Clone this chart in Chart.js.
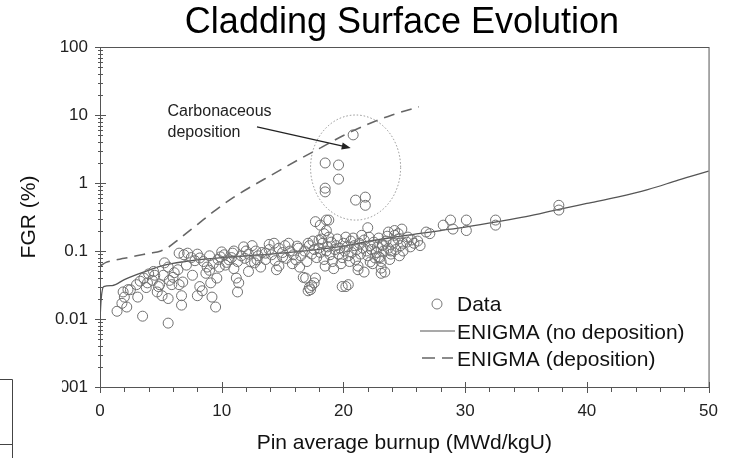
<!DOCTYPE html>
<html>
<head>
<meta charset="utf-8">
<script src="https://cdn.jsdelivr.net/npm/chart.js@4.4.1/dist/chart.umd.min.js"></script>
<style>
  html, body { margin: 0; padding: 0; background: #fff; }
  #wrap { width: 732px; height: 458px; }
</style>
</head>
<body>
<div id="wrap"><canvas id="fgrChart" width="732" height="458"></canvas></div>
<script>
const chartTitle = "Cladding Surface Evolution";
const xAxisTitle = "Pin average burnup (MWd/kgU)";
const yAxisTitle = "FGR (%)";
const legendLabels = ["Data", "ENIGMA (no deposition)", "ENIGMA (deposition)"];
const noteLines = ["Carbonaceous", "deposition"];

const xTickValues = [0, 10, 20, 30, 40, 50];
const yTickValues = [0.001, 0.01, 0.1, 1, 10, 100];
const yTickLabels = ["0.001", "0.01", "0.1", "1", "10", "100"];

// measured points (burnup, FGR)
const dataBurnup = [
  1.4, 1.8, 2.0, 2.3, 2.2, 3.0, 3.1, 3.5, 3.8, 3.9,
  4.3, 4.7, 4.8, 5.2, 5.3, 5.6, 5.6, 5.9, 6.0, 6.4,
  6.5, 6.7, 6.7, 6.8, 7.1, 7.2, 7.6, 8.0, 8.2, 8.2,
  8.7, 8.8, 9.2, 9.5, 9.6, 9.8, 9.9, 10.6, 10.9, 11.2,
  11.3, 11.4, 1.9, 2.5, 3.3, 3.6, 4.5, 4.9, 5.1, 5.7,
  6.1, 6.5, 6.9, 7.8, 8.4, 9.0, 9.1, 4.0, 4.4, 5.6,
  12.0, 12.5, 12.9, 13.6, 14.3, 14.5, 15.0, 15.5, 16.1, 16.3,
  16.9, 17.2, 17.3, 17.6, 17.7, 18.0, 18.4, 18.6, 20.2, 20.4,
  10.0, 11.8, 12.7, 13.9, 16.7, 18.1, 19.9, 17.7, 18.8, 18.6,
  22.0, 23.7, 24.8, 25.3, 26.3, 26.8, 21.2, 21.7, 23.1, 23.4,
  17.4, 17.1, 22.2, 22.6, 27.1, 28.2, 29.0, 28.8, 30.1, 30.1,
  32.5, 32.5, 37.7, 37.7, 25.6, 24.2, 24.5, 24.9, 23.9, 23.2,
  22.9, 23.1, 14.7, 13.2, 15.8, 11.0, 10.3, 12.2, 16.4, 15.2,
  18.5, 19.6, 19.6, 18.5, 18.5, 21.0, 21.8, 21.8, 20.8,
  7.5, 8.0, 8.5, 9.0, 9.3, 9.7, 10.2, 10.4, 10.8, 11.0,
  11.3, 11.6, 11.9, 12.2, 12.4, 12.8, 13.0, 13.3, 13.6, 13.9,
  14.1, 14.4, 14.7, 15.0, 15.3, 15.6, 15.9, 16.2, 16.5, 16.8,
  17.0, 17.2, 17.4, 17.6, 17.8, 18.0, 18.1, 18.3, 18.4, 18.6,
  18.7, 18.9, 19.0, 19.1, 19.3, 19.4, 19.6, 19.7, 19.9, 20.0,
  20.1, 20.3, 20.4, 20.6, 20.7, 20.9, 21.0, 21.1, 21.3, 21.4,
  21.6, 21.7, 21.9, 22.0, 22.2, 22.3, 22.5, 22.7, 22.8, 23.0,
  23.2, 23.3, 23.5, 23.7, 23.9, 24.1, 24.3, 24.5, 24.7, 24.9,
  25.2, 25.5, 25.8, 26.1, 17.5, 18.2, 18.8, 19.5, 20.2, 20.8,
  21.5, 22.1, 22.9, 23.6, 24.2, 17.1, 19.8, 20.5, 21.2, 22.4,
  23.1, 23.8, 24.6, 18.5, 19.2
];
const dataFgr = [
  0.013, 0.017, 0.021, 0.027, 0.015, 0.032, 0.021, 0.011, 0.029, 0.034,
  0.037, 0.025, 0.030, 0.044, 0.067, 0.020, 0.0087, 0.032, 0.041, 0.053,
  0.093, 0.022, 0.016, 0.035, 0.062, 0.093, 0.044, 0.022, 0.079, 0.030,
  0.047, 0.058, 0.021, 0.015, 0.040, 0.058, 0.082, 0.074, 0.093, 0.040,
  0.025, 0.034, 0.025, 0.027, 0.036, 0.040, 0.044, 0.032, 0.022, 0.037,
  0.048, 0.032, 0.088, 0.072, 0.026, 0.052, 0.034, 0.046, 0.050, 0.058,
  0.10, 0.12, 0.074, 0.093, 0.13, 0.053, 0.082, 0.13, 0.074, 0.11,
  0.040, 0.029, 0.027, 0.034, 0.040, 0.145, 0.18, 0.285, 0.030, 0.032,
  0.097, 0.115, 0.067, 0.125, 0.041, 0.24, 0.030, 0.27, 0.285, 0.20,
  0.22, 0.19, 0.21, 0.16, 0.12, 0.19, 0.053, 0.049, 0.047, 0.049,
  0.031, 0.026, 0.069, 0.079, 0.18, 0.24, 0.21, 0.285, 0.285, 0.20,
  0.285, 0.24, 0.47, 0.40, 0.145, 0.20, 0.18, 0.13, 0.10, 0.12,
  0.082, 0.056, 0.06, 0.058, 0.065, 0.055, 0.062, 0.05, 0.058, 0.12,
  1.97, 1.84, 1.14, 0.84, 0.74, 0.56, 0.62, 0.47, 5.1,
  0.08, 0.09, 0.07, 0.085, 0.065, 0.075, 0.088, 0.068, 0.08, 0.1,
  0.07, 0.085, 0.078, 0.09, 0.07, 0.1, 0.085, 0.095, 0.075, 0.105,
  0.088, 0.072, 0.11, 0.095, 0.078, 0.1, 0.088, 0.118, 0.085, 0.1,
  0.07, 0.12, 0.09, 0.105, 0.08, 0.11, 0.095, 0.13, 0.075, 0.1,
  0.115, 0.088, 0.135, 0.07, 0.105, 0.12, 0.09, 0.11, 0.08, 0.13,
  0.1, 0.115, 0.085, 0.14, 0.095, 0.12, 0.075, 0.105, 0.13, 0.09,
  0.11, 0.145, 0.1, 0.085, 0.12, 0.105, 0.135, 0.095, 0.115, 0.08,
  0.125, 0.1, 0.14, 0.11, 0.09, 0.13, 0.105, 0.15, 0.12, 0.1,
  0.135, 0.115, 0.13, 0.14, 0.14, 0.15, 0.16, 0.15, 0.16, 0.155,
  0.17, 0.16, 0.155, 0.165, 0.17, 0.13, 0.065, 0.07, 0.06, 0.065,
  0.07, 0.075, 0.085, 0.06, 0.055
];

// ENIGMA model curves
const noDepBurnup = [0, 0.1, 0.3, 1, 2, 3, 4, 5, 6, 7, 8, 10, 12, 14, 16, 18, 20, 22, 24, 26, 28, 30, 32.7, 35, 37.7, 40, 42.5, 45, 47.5, 50, 50.5];
const noDepFgr = [0.01, 0.02, 0.03, 0.031, 0.038, 0.045, 0.052, 0.06, 0.066, 0.07, 0.074, 0.08, 0.085, 0.09, 0.097, 0.106, 0.118, 0.138, 0.158, 0.178, 0.2, 0.225, 0.27, 0.32, 0.41, 0.5, 0.62, 0.8, 1.1, 1.5, 1.58];
const depBurnup = [0, 0.5, 1, 2, 3, 4, 5, 5.5, 6.5, 8, 9.5, 11, 12.5, 14, 16.3, 18, 20, 22, 24, 26.2];
const depFgr = [0.06, 0.068, 0.072, 0.078, 0.085, 0.092, 0.1, 0.11, 0.15, 0.245, 0.4, 0.62, 0.9, 1.28, 2.2, 3.2, 5.0, 7.3, 10, 13.2];

const toPoints = (xs, ys) => xs.map((x, i) => ({ x: x, y: ys[i] }));

Chart.defaults.font.family = "'Liberation Sans', Arial, sans-serif";
Chart.defaults.color = "#222";

const decorPlugin = {
  id: "decor",
  afterDraw(chart) {
    const { ctx, chartArea: a, scales: { x, y } } = chart;
    ctx.save();

    // frame
    ctx.strokeStyle = "#555";
    ctx.lineWidth = 1;
    ctx.strokeRect(a.left + 0.5, a.top + 0.5, a.right - a.left, a.bottom - a.top);

    // tick marks
    ctx.beginPath();
    yTickValues.forEach((v, i) => {
      const py = Math.round(y.getPixelForValue(v)) + 0.5;
      ctx.moveTo(a.left - 5, py); ctx.lineTo(a.left + 6, py);
      if (i < yTickValues.length - 1) {
        for (let k = 2; k <= 9; k++) {
          const pm = Math.round(y.getPixelForValue(v * k)) + 0.5;
          ctx.moveTo(a.left - 2, pm); ctx.lineTo(a.left + 3, pm);
        }
      }
    });
    xTickValues.forEach(v => {
      const px = Math.round(x.getPixelForValue(v)) + 0.5;
      ctx.moveTo(px, a.bottom - 5); ctx.lineTo(px, a.bottom + 6);
    });
    for (let v = 2; v < 50; v += 2) {
      if (v % 10 === 0) continue;
      const px = Math.round(x.getPixelForValue(v)) + 0.5;
      ctx.moveTo(px, a.bottom); ctx.lineTo(px, a.bottom + 5);
    }
    ctx.stroke();

    // dotted ellipse round the deposition points
    const cx = x.getPixelForValue(21);
    const rx = x.getPixelForValue(24.7) - cx;
    const yTop = y.getPixelForValue(10);
    const yBot = y.getPixelForValue(0.285);
    ctx.beginPath();
    ctx.setLineDash([1.5, 2]);
    ctx.strokeStyle = "#888";
    ctx.lineWidth = 0.9;
    ctx.ellipse(cx, (yTop + yBot) / 2, rx, (yBot - yTop) / 2, 0, 0, Math.PI * 2);
    ctx.stroke();
    ctx.setLineDash([]);

    // note and arrow
    ctx.fillStyle = "#222";
    ctx.font = "16px 'Liberation Sans', Arial, sans-serif";
    ctx.textAlign = "left";
    ctx.textBaseline = "alphabetic";
    const nx = x.getPixelForValue(5.55);
    ctx.fillText(noteLines[0], nx, y.getPixelForValue(9.66));
    ctx.fillText(noteLines[1], nx, y.getPixelForValue(4.75));

    const ax0 = x.getPixelForValue(12.9), ay0 = y.getPixelForValue(6.67);
    const ax1 = x.getPixelForValue(20.6), ay1 = y.getPixelForValue(3.27);
    const ang = Math.atan2(ay1 - ay0, ax1 - ax0);
    ctx.strokeStyle = "#222";
    ctx.lineWidth = 1.3;
    ctx.beginPath();
    ctx.moveTo(ax0, ay0);
    ctx.lineTo(ax1 - 7 * Math.cos(ang), ay1 - 7 * Math.sin(ang));
    ctx.stroke();
    ctx.beginPath();
    ctx.moveTo(ax1, ay1);
    ctx.lineTo(ax1 - 9 * Math.cos(ang) + 3.5 * Math.sin(ang), ay1 - 9 * Math.sin(ang) - 3.5 * Math.cos(ang));
    ctx.lineTo(ax1 - 9 * Math.cos(ang) - 3.5 * Math.sin(ang), ay1 - 9 * Math.sin(ang) + 3.5 * Math.cos(ang));
    ctx.closePath();
    ctx.fill();

    // legend inside the plot
    ctx.font = "21px 'Liberation Sans', Arial, sans-serif";
    ctx.fillStyle = "#111";
    ctx.fillText(legendLabels[0], 457, 311);
    ctx.fillText(legendLabels[1], 457, 339);
    ctx.fillText(legendLabels[2], 457, 366);
    ctx.strokeStyle = "#777";
    ctx.lineWidth = 1;
    ctx.beginPath();
    ctx.arc(437, 304, 5, 0, Math.PI * 2);
    ctx.stroke();
    ctx.strokeStyle = "#555";
    ctx.lineWidth = 1.2;
    ctx.beginPath();
    ctx.moveTo(420, 331); ctx.lineTo(455, 331);
    ctx.stroke();
    ctx.strokeStyle = "#666";
    ctx.lineWidth = 1.5;
    ctx.beginPath();
    ctx.moveTo(422, 358); ctx.lineTo(435, 358);
    ctx.moveTo(442, 358); ctx.lineTo(453, 358);
    ctx.stroke();

    // title
    ctx.font = "36px 'Liberation Sans', Arial, sans-serif";
    ctx.fillStyle = "#000";
    ctx.textAlign = "center";
    ctx.fillText(chartTitle, 402, 33);

    // scrap of a neighbouring figure at bottom left
    ctx.fillStyle = "#fff";
    ctx.fillRect(0, 372, 62, 86);
    ctx.strokeStyle = "#444";
    ctx.lineWidth = 1;
    ctx.beginPath();
    ctx.moveTo(0, 379.5); ctx.lineTo(12.5, 379.5); ctx.lineTo(12.5, 458);
    ctx.moveTo(0, 444.5); ctx.lineTo(12.5, 444.5);
    ctx.stroke();

    ctx.restore();
  }
};

const config_fgr = {
  type: "scatter",
  data: {
    datasets: [
      {
        label: legendLabels[0],
        data: toPoints(dataBurnup, dataFgr),
        pointRadius: 5,
        pointBorderWidth: 1,
        borderColor: "#707070",
        backgroundColor: "rgba(0,0,0,0)",
      },
      {
        label: legendLabels[1],
        data: toPoints(noDepBurnup, noDepFgr),
        showLine: true,
        pointRadius: 0,
        borderColor: "#555",
        borderWidth: 1.3,
        cubicInterpolationMode: "monotone",
        clip: { left: 0, top: 0, right: 8, bottom: 0 },
      },
      {
        label: legendLabels[2],
        data: toPoints(depBurnup, depFgr),
        showLine: true,
        pointRadius: 0,
        borderColor: "#666",
        borderWidth: 1.6,
        borderDash: [11, 7],
        cubicInterpolationMode: "monotone",
      },
    ],
  },
  options: {
    responsive: false,
    animation: false,
    events: [],
    layout: { padding: { top: 47, right: 20, left: 0, bottom: 0 } },
    scales: {
      x: {
        type: "linear",
        min: 0,
        max: 50,
        afterBuildTicks: (s) => { s.ticks = xTickValues.map(v => ({ value: v })); },
        afterFit: (s) => { s.height = 71; },
        grid: { display: false, drawTicks: false },
        border: { display: false },
        ticks: { font: { size: 17 }, padding: 14, color: "#222" },
        title: { display: true, text: xAxisTitle, font: { size: 21 }, color: "#111", padding: { top: 0, bottom: 2 } },
      },
      y: {
        type: "logarithmic",
        min: 0.001,
        max: 100,
        afterBuildTicks: (s) => { s.ticks = yTickValues.map(v => ({ value: v })); },
        afterFit: (s) => { s.width = 100; },
        grid: { display: false, drawTicks: false },
        border: { display: false },
        ticks: {
          font: { size: 17 },
          padding: 12,
          color: "#222",
          callback: (value) => yTickLabels[yTickValues.indexOf(value)],
        },
        title: { display: true, text: yAxisTitle, font: { size: 21 }, color: "#111", padding: { top: 17, bottom: 0 } },
      },
    },
    plugins: {
      legend: { display: false },
      title: { display: false },
      tooltip: { enabled: false },
    },
  },
  plugins: [decorPlugin],
};

const fgrChart = new Chart(document.getElementById("fgrChart"), config_fgr);
</script>
</body>
</html>
